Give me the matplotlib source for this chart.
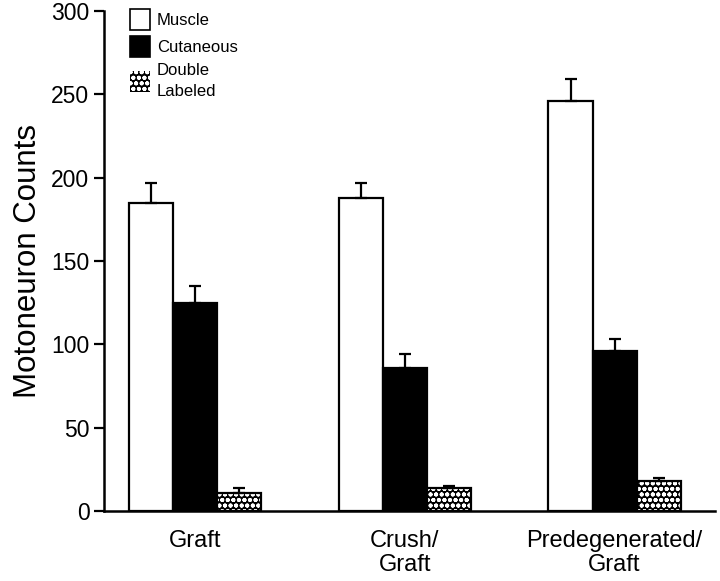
import numpy as np
import matplotlib
matplotlib.use("Agg")
import matplotlib.pyplot as plt
from matplotlib.patches import Patch

plt.rcParams['font.family'] = ['Liberation Sans', 'DejaVu Sans']
plt.rcParams['hatch.linewidth'] = 1.3

# data
groups = ["Graft", "Crush/\nGraft", "Predegenerated/\nGraft"]
muscle = [185, 188, 246]
muscle_err = [12, 9, 13]
cutaneous = [125, 86, 96]
cutaneous_err = [10, 8, 7]
double = [11, 14, 18]
double_err = [2.5, 1, 2]
series_names = ["Muscle", "Cutaneous", "Double\nLabeled"]

fig = plt.figure(figsize=(7.2, 5.81), dpi=100)
ax = fig.add_axes([0.1444, 0.1205, 0.849, 0.8605])

x = np.arange(len(groups))
w = 0.21
err_kw = dict(ecolor='black', elinewidth=1.6, capsize=4.3, capthick=1.6)
zeros = [0] * len(groups)

ax.bar(x - w, muscle, w, color='white', edgecolor='black', linewidth=1.6,
       yerr=[zeros, muscle_err], error_kw=err_kw)
ax.bar(x, cutaneous, w, color='black', edgecolor='black', linewidth=1.6,
       yerr=[zeros, cutaneous_err], error_kw=err_kw)
# stippled bar: black fill, white speckles, black outline
ax.bar(x + w, double, w, color='black', edgecolor='black', linewidth=0,
       yerr=[zeros, double_err], error_kw=err_kw)
ax.bar(x + w, double, w, color='none', edgecolor='white', linewidth=0,
       hatch='ooo')
ax.bar(x + w, double, w, color='none', edgecolor='black', linewidth=1.6)

ax.set_xlim(-0.434, 2.48)
ax.set_ylim(0, 300)
ax.set_yticks(range(0, 301, 50))
ax.tick_params(axis='y', labelsize=16.5, length=7, width=1.6, direction='out')
ax.set_xticks(x)
ax.set_xticklabels(groups, fontsize=17, va='top', linespacing=1.1)
ax.tick_params(axis='x', length=0, pad=14)

for s in ['top', 'right']:
    ax.spines[s].set_visible(False)
for s in ['left', 'bottom']:
    ax.spines[s].set_linewidth(1.8)

ax.set_ylabel("Motoneuron Counts", fontsize=22.5, labelpad=6)

handles = [Patch(facecolor='white', edgecolor='black', linewidth=1.2),
           Patch(facecolor='black', edgecolor='black', linewidth=1.2),
           Patch(facecolor='black', edgecolor='white', linewidth=0, hatch='ooo')]
leg = ax.legend(handles, series_names, loc='upper left',
                bbox_to_anchor=(0.0425, 1.004), frameon=False, fontsize=12,
                handlelength=1.2, handleheight=1.6, handletextpad=0.42,
                labelspacing=0.32, borderaxespad=0, borderpad=0)
for t in leg.get_texts():
    t.set_linespacing(1.55)

fig.savefig("out.png", dpi=100)
